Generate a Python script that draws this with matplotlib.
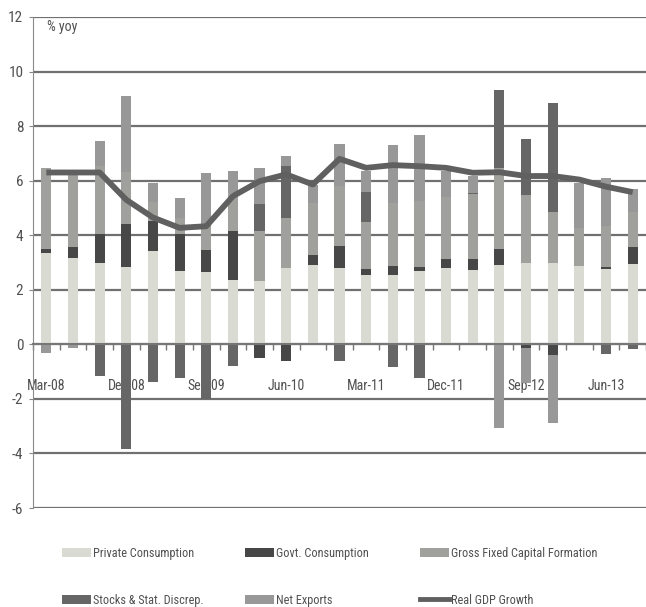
# %% imports
import numpy as np
import matplotlib
matplotlib.use('Agg')
import matplotlib.pyplot as plt
from matplotlib import font_manager
from matplotlib.patches import Patch
from matplotlib.lines import Line2D

# %% data (contributions to real GDP growth, % yoy)
quarters = [
  'Mar-08', 'Jun-08', 'Sep-08', 'Dec-08', 'Mar-09', 'Jun-09', 'Sep-09', 'Dec-09',
  'Mar-10', 'Jun-10', 'Sep-10', 'Dec-10', 'Mar-11', 'Jun-11', 'Sep-11', 'Dec-11',
  'Mar-12', 'Jun-12', 'Sep-12', 'Dec-12', 'Mar-13', 'Jun-13', 'Sep-13',
]
privateCons = [3.35, 3.17, 3.00, 2.83, 3.43, 2.70, 2.65, 2.35, 2.32, 2.81, 2.90, 2.80,
               2.56, 2.56, 2.69, 2.81, 2.72, 2.90, 3.00, 3.00, 2.87, 2.77, 2.93]
govtCons = [0.13, 0.41, 1.03, 1.57, 1.09, 1.33, 0.80, 1.80, -0.50, -0.61, 0.37, 0.80,
            0.19, 0.31, 0.16, 0.30, 0.39, 0.58, -0.15, -0.40, 0.00, 0.08, 0.63]
gfcf = [3.00, 2.72, 2.50, 1.90, 0.70, 0.60, 0.90, 1.40, 1.83, 1.83, 1.90, 2.20,
        1.75, 2.30, 2.40, 2.30, 2.39, 2.99, 2.49, 1.86, 1.41, 1.50, 1.30]
stocks = [0.00, 0.00, -1.16, -3.82, -1.38, -1.22, -2.00, -0.80, 0.98, 1.89, 0.00, -0.61,
          1.10, -0.82, -1.22, 0.00, 0.06, 2.85, 2.04, 3.99, 0.00, -0.37, -0.18]
netExports = [-0.30, -0.15, 0.92, 2.80, 0.70, 0.75, 1.93, 0.80, 1.34, 0.37, 0.68, 1.53,
              0.75, 2.12, 2.44, 0.94, 0.61, -3.05, -1.25, -2.50, 1.64, 1.75, 0.84]
realGdp = [6.30, 6.30, 6.30, 5.30, 4.65, 4.27, 4.33, 5.43, 5.98, 6.23, 5.86, 6.80,
           6.47, 6.57, 6.53, 6.47, 6.29, 6.31, 6.17, 6.17, 6.04, 5.78, 5.58]

seriesNames = ['Private Consumption', 'Govt. Consumption', 'Gross Fixed Capital Formation',
               'Stocks & Stat. Discrep.', 'Net Exports']
seriesValues = [privateCons, govtCons, gfcf, stocks, netExports]
seriesColors = ['#d9dbd3', '#474747', '#a0a09c', '#666666', '#989898']
lineColor = '#606060'
textColor = '#505050'

# %% fonts: prefer a narrow face, the labels are tightly set
def pickFont():
  fonts = font_manager.fontManager.ttflist
  for want in ['Liberation Sans Narrow', 'Roboto Condensed', 'Open Sans Condensed',
               'DejaVu Sans Condensed', 'Noto Sans Condensed']:
    if any(f.name == want for f in fonts):
      return want, 'normal'
  for f in fonts:
    if f.name == 'DejaVu Sans' and f.stretch in ('condensed', 'semi-condensed'):
      return 'DejaVu Sans', 'condensed'
  return None, 'normal'

family, stretch = pickFont()
sizeScale = 1.0
if family is None:
  family = 'DejaVu Sans'
  sizeScale = 0.86
plt.rcParams['font.family'] = [family, 'DejaVu Sans']
plt.rcParams['font.stretch'] = stretch

xTickSize = 10 * sizeScale
yTickSize = 11 * sizeScale
legendSize = 8.8 * sizeScale

# %% plot
W, H = 646, 607
fig = plt.figure(figsize=(W / 100, H / 100), dpi=100)
ax = fig.add_axes([33 / W, 1 - 508 / H, 613 / W, 491 / H])

x = np.arange(len(quarters))
posBottom = np.zeros(len(quarters))
negBottom = np.zeros(len(quarters))
for name, vals, color in zip(seriesNames, seriesValues, seriesColors):
  vals = np.array(vals)
  bottom = np.where(vals >= 0, posBottom, negBottom)
  ax.bar(x, vals, 0.38, bottom=bottom, color=color, zorder=2, label=name)
  posBottom += np.clip(vals, 0, None)
  negBottom += np.clip(vals, None, 0)

ax.plot(x, realGdp, color=lineColor, lw=4.2, solid_joinstyle='round',
        solid_capstyle='butt', zorder=3, label='Real GDP Growth')

ax.set_xlim(-0.5, len(quarters) - 0.5)
ax.set_ylim(-6, 12)

yticks = list(range(-6, 13, 2))
ax.set_yticks(yticks)
ax.set_yticklabels([str(v) for v in yticks])
ax.yaxis.grid(True, color='#707070', lw=1.6)
ax.set_axisbelow(True)

ax.set_xticks(x[::3])
ax.set_xticklabels(quarters[::3])
ax.set_xticks(np.arange(-0.5, len(quarters), 1), minor=True)
ax.tick_params(axis='x', which='major', length=0, pad=25, labelsize=xTickSize, labelcolor=textColor)
ax.tick_params(axis='x', which='minor', length=4, width=1, color='#777777', direction='out')
ax.tick_params(axis='y', length=3, color='#888888', labelsize=yTickSize, labelcolor=textColor, pad=4)

for s in ['top', 'right']:
  ax.spines[s].set_visible(False)
ax.spines['left'].set_color('#8a8a8a')
ax.spines['bottom'].set_position(('data', 0))
ax.spines['bottom'].set_color('#777777')
ax.spines['bottom'].set_linewidth(1.5)
ax.spines['bottom'].set_zorder(4)

ax.text(12 / 613, 11.65, '% yoy', fontsize=xTickSize, color=textColor, va='center', ha='left')

# %% legend, one column at a time
handles = [Patch(facecolor=c) for c in seriesColors] + [Line2D([0], [0], color=lineColor, lw=3.5)]
labels = seriesNames + ['Real GDP Growth']
columns = [(0, 3, 62), (1, 4, 245), (2, 5, 420)]
for i, j, xpos in columns:
  fig.legend([handles[i], handles[j]], [labels[i], labels[j]], loc='upper left',
             bbox_to_anchor=(xpos / W, 1 - 547 / H), frameon=False, fontsize=legendSize,
             labelcolor=textColor, handlelength=2.4, handleheight=0.8,
             handletextpad=0.15, borderpad=0, borderaxespad=0, labelspacing=2.75)

fig.savefig('out.png', dpi=100)
